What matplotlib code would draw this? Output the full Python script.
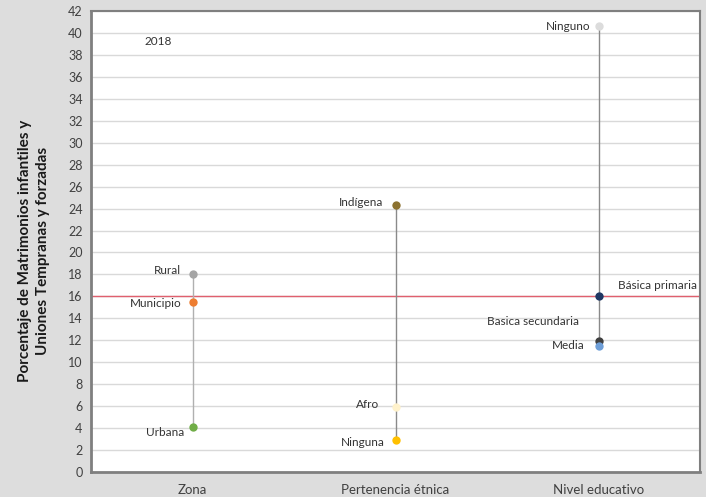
import matplotlib
matplotlib.use("Agg")
import matplotlib.pyplot as plt

plt.rcParams['font.family'] = ['Lato', 'DejaVu Sans']

categories = ["Zona", "Pertenencia étnica", "Nivel educativo"]
zona_labels = ["Rural", "Municipio", "Urbana"]
zona_values = [18.0, 15.5, 4.1]
etnia_labels = ["Indígena", "Afro", "Ninguna"]
etnia_values = [24.3, 5.9, 2.9]
edu_labels = ["Ninguno", "Básica primaria", "Basica secundaria", "Media"]
edu_values = [40.6, 16.0, 11.9, 11.5]
reference_value = 16.0
year_label = "2018"
y_ticks = list(range(0, 43, 2))

groups = [
    (zona_labels, zona_values,
     ["#a5a5a5", "#ed7d31", "#70ad47"], "#b0b0b0",
     [(-8, 3), (-8, -1), (-6, -4)], ["right", "right", "right"]),
    (etnia_labels, etnia_values,
     ["#8c7230", "#fff2cc", "#ffc000"], "#8a8a8a",
     [(-9, 2), (-12, 2), (-8, -2)], ["right", "right", "right"]),
    (edu_labels, edu_values,
     ["#dcdcdc", "#1f3864", "#404040", "#6f9fd8"], "#8a8a8a",
     [(-6, 0), (14, 8), (-14, 14), (-10, 0)], ["right", "left", "right", "right"]),
]

fig = plt.figure(figsize=(7.06, 4.97), dpi=100, facecolor="#dddddd")
ax = fig.add_axes([91 / 706, 25 / 497, 609 / 706, 461 / 497])
ax.set_facecolor("white")

ax.set_xlim(0, 3)
ax.set_ylim(0, 42)
ax.set_yticks(y_ticks)
ax.set_yticklabels([str(t) for t in y_ticks], fontsize=9, color="#404040")
ax.set_xticks([0.5, 1.5, 2.5])
ax.set_xticklabels(categories, fontsize=9.5, color="#404040")
ax.tick_params(axis="y", length=0, pad=6)
ax.tick_params(axis="x", length=0, pad=9)
ax.grid(axis="y", color="#d9d9d9", linewidth=1.0)
ax.set_axisbelow(True)

for side in ["left", "bottom"]:
    ax.spines[side].set_color("#7f7f7f")
    ax.spines[side].set_linewidth(2)
for side in ["top", "right"]:
    ax.spines[side].set_color("#7f7f7f")
    ax.spines[side].set_linewidth(1.5)

ax.axhline(reference_value, color="#e0606e", linewidth=1.0, zorder=2)

for i, (labels, values, colors, lcolor, offsets, has) in enumerate(groups):
    x = i + 0.5
    ax.plot([x, x], [min(values), max(values)], color=lcolor, linewidth=1.0, zorder=3)
    for lab, v, c, off, ha in zip(labels, values, colors, offsets, has):
        ax.scatter([x], [v], s=36, color=c, zorder=4, linewidths=0)
        ax.annotate(lab, (x, v), xytext=off, textcoords="offset points",
                    ha=ha, va="center", fontsize=8.5, color="#333333")

ax.text(0.11, 0.933, year_label, transform=ax.transAxes, fontsize=8.5,
        color="#333333", ha="center", va="center")

ax.set_ylabel("Porcentaje de Matrimonios infantiles y\nUniones Tempranas y forzadas",
              fontsize=11, fontweight="bold", color="#1a1a1a", linespacing=1.35)
ax.yaxis.set_label_coords(-0.068, 0.48)

fig.savefig("out.png", dpi=100, facecolor=fig.get_facecolor())
